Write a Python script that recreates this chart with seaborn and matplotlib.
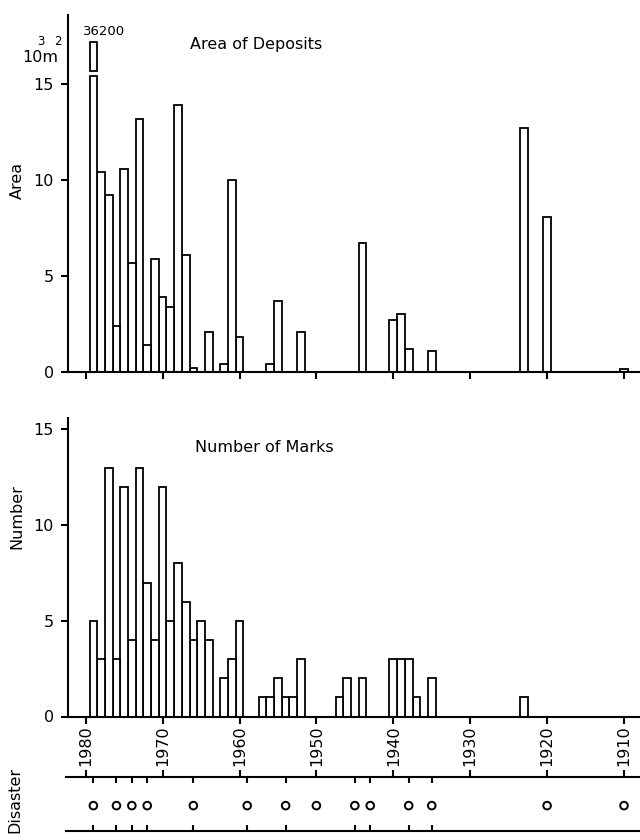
import numpy as np
import pandas as pd
import matplotlib
matplotlib.use("Agg")
import matplotlib.pyplot as plt
import seaborn as sns

# ---------------- data ----------------
area_years = [1979, 1978, 1977, 1976, 1975, 1974, 1973, 1972, 1971, 1970,
              1969, 1968, 1967, 1966, 1964, 1962, 1961, 1960, 1956, 1955,
              1952, 1944, 1940, 1939, 1938, 1935, 1923, 1920, 1910]
area_values = [36.2, 10.4, 9.2, 2.4, 10.6, 5.7, 13.2, 1.4, 5.9, 3.9,
               3.4, 13.9, 6.1, 0.2, 2.1, 0.4, 10.0, 1.8, 0.4, 3.7,
               2.1, 6.7, 2.7, 3.0, 1.2, 1.1, 12.7, 8.1, 0.15]

mark_years = [1979, 1978, 1977, 1976, 1975, 1974, 1973, 1972, 1971, 1970,
              1969, 1968, 1967, 1966, 1965, 1964, 1962, 1961, 1960, 1957,
              1956, 1955, 1954, 1953, 1952, 1947, 1946, 1944, 1940, 1939,
              1938, 1937, 1935, 1923]
mark_counts = [5, 3, 13, 3, 12, 4, 13, 7, 4, 12,
               5, 8, 6, 4, 5, 4, 2, 3, 5, 1,
               1, 2, 1, 1, 3, 1, 2, 2, 3, 3,
               3, 1, 2, 1]

disaster_years = [1979, 1976, 1974, 1972, 1966, 1959, 1954, 1950, 1945,
                  1943, 1938, 1935, 1920, 1910]

decade_ticks = [1980, 1970, 1960, 1950, 1940, 1930, 1920, 1910]
decade_labels = ["1980", "1970", "1960", "1950", "1940", "1930", "1920", "1910"]
area_yticks = [0, 5, 10, 15]
number_yticks = [0, 5, 10, 15]
big_label = "36200"

# ---------------- style ----------------
sns.set_theme(style="ticks")
plt.rcParams["font.family"] = ["DejaVu Sans"]
for key in ("text.color", "axes.labelcolor", "xtick.color", "ytick.color",
            "axes.edgecolor"):
    plt.rcParams[key] = "black"
FS = 11.5
LW = 1.5

W, H = 640, 840
fig = plt.figure(figsize=(W / 100, H / 100), dpi=100)

# pixel -> year mapping
PX1980, PXYEAR = 85.7, 7.69


def xlim_for(left_px, right_px):
    return (1980 + (PX1980 - left_px) / PXYEAR, 1980 - (right_px - PX1980) / PXYEAR)


def axes_px(left, top, right, bottom):
    return fig.add_axes([left / W, 1 - bottom / H, (right - left) / W, (bottom - top) / H])


ax1 = axes_px(68, 15, 640, 372)
ax2 = axes_px(68, 418, 640, 716.5)
ax3 = axes_px(66, 777, 640, 831)

# break of the tallest bar
BREAK_LOW, BREAK_HIGH, BREAK_TOP = 15.4, 15.66, 17.2

area_df = pd.DataFrame({"year": area_years, "area": area_values})
area_df["shown"] = area_df["area"].clip(upper=BREAK_LOW)
mark_df = pd.DataFrame({"year": mark_years, "count": mark_counts})

bar_kw = dict(native_scale=True, width=1.0, color="white", edgecolor="black",
              linewidth=1.3, saturation=1, errorbar=None, orient="x")

sns.barplot(data=area_df, x="year", y="shown", ax=ax1, **bar_kw)
# upper segment of the broken bar
for yr, val in zip(area_years, area_values):
    if val > BREAK_LOW:
        ax1.bar(yr, BREAK_TOP - BREAK_HIGH, bottom=BREAK_HIGH, width=1.0,
                color="white", edgecolor="black", linewidth=1.3)
        ax1.text(yr - 1.35, 17.72, big_label, ha="center", va="center", fontsize=9.5)

sns.barplot(data=mark_df, x="year", y="count", ax=ax2, **bar_kw)

# ---- top panel axes ----
ax1.set_xlim(*xlim_for(68, 640))
ax1.set_ylim(0, 18.6)
ax1.set_yticks(area_yticks)
ax1.set_yticklabels([str(t) for t in area_yticks], fontsize=FS)
ax1.set_xticks(decade_ticks)
ax1.set_xticklabels([])
ax1.set_xlabel("")
ax1.set_ylabel("")
ax1.text(1966.4, 17.08, "Area of Deposits", ha="left", va="center", fontsize=FS)

# ---- bottom panel axes ----
ax2.set_xlim(*xlim_for(68, 640))
ax2.set_ylim(0, 15.6)
ax2.set_yticks(number_yticks)
ax2.set_yticklabels([str(t) for t in number_yticks], fontsize=FS)
ax2.set_xticks(decade_ticks)
ax2.set_xticklabels(decade_labels, rotation=90, fontsize=FS)
ax2.set_xlabel("")
ax2.set_ylabel("")
ax2.text(1965.8, 14.04, "Number of Marks", ha="left", va="center", fontsize=FS)

for ax in (ax1, ax2):
    for s in ("top", "right"):
        ax.spines[s].set_visible(False)
    for s in ("left", "bottom"):
        ax.spines[s].set_linewidth(LW)
    ax.tick_params(axis="both", direction="out", length=5, width=LW, pad=3,
                   colors="black")
    ax.tick_params(axis="y", pad=5)
    ax.set_facecolor("none")
ax2.tick_params(axis="x", pad=1.5)

# ---- disaster strip ----
sns.scatterplot(x=disaster_years, y=[0.47] * len(disaster_years), ax=ax3,
                marker="o", s=30, facecolor="none", edgecolor="black",
                linewidth=1.4, legend=False)
ax3.set_xlim(*xlim_for(66, 640))
ax3.set_ylim(0, 1)
ax3.set_xticks(decade_ticks)
ax3.set_xticks(disaster_years, minor=True)
ax3.set_xticklabels([])
ax3.set_yticks([])
ax3.set_xlabel("")
ax3.set_ylabel("")
for s in ("left", "right"):
    ax3.spines[s].set_visible(False)
for s in ("top", "bottom"):
    ax3.spines[s].set_visible(True)
    ax3.spines[s].set_linewidth(LW)
ax3.tick_params(axis="x", which="major", top=True, bottom=False, labeltop=False,
                labelbottom=False, direction="out", length=5, width=LW)
ax3.tick_params(axis="x", which="minor", top=True, bottom=True, labeltop=False,
                labelbottom=False, direction="in", length=4, width=LW)
ax3.set_facecolor("none")

# ---- free labels ----
fig.text(17 / W, 1 - 180 / H, "Area", rotation=90, ha="center", va="center", fontsize=FS)
fig.text(17 / W, 1 - 517 / H, "Number", rotation=90, ha="center", va="center", fontsize=FS)
fig.text(15 / W, 1 - 800 / H, "Disaster", rotation=90, ha="center", va="center", fontsize=FS)
fig.text(40 / W, 1 - 62 / H, "10m", ha="center", va="baseline", fontsize=FS)
fig.text(41 / W, 1 - 45 / H, "3", ha="center", va="baseline", fontsize=8.5)
fig.text(58 / W, 1 - 45 / H, "2", ha="center", va="baseline", fontsize=8.5)

fig.savefig("out.png", dpi=100, facecolor="white")
